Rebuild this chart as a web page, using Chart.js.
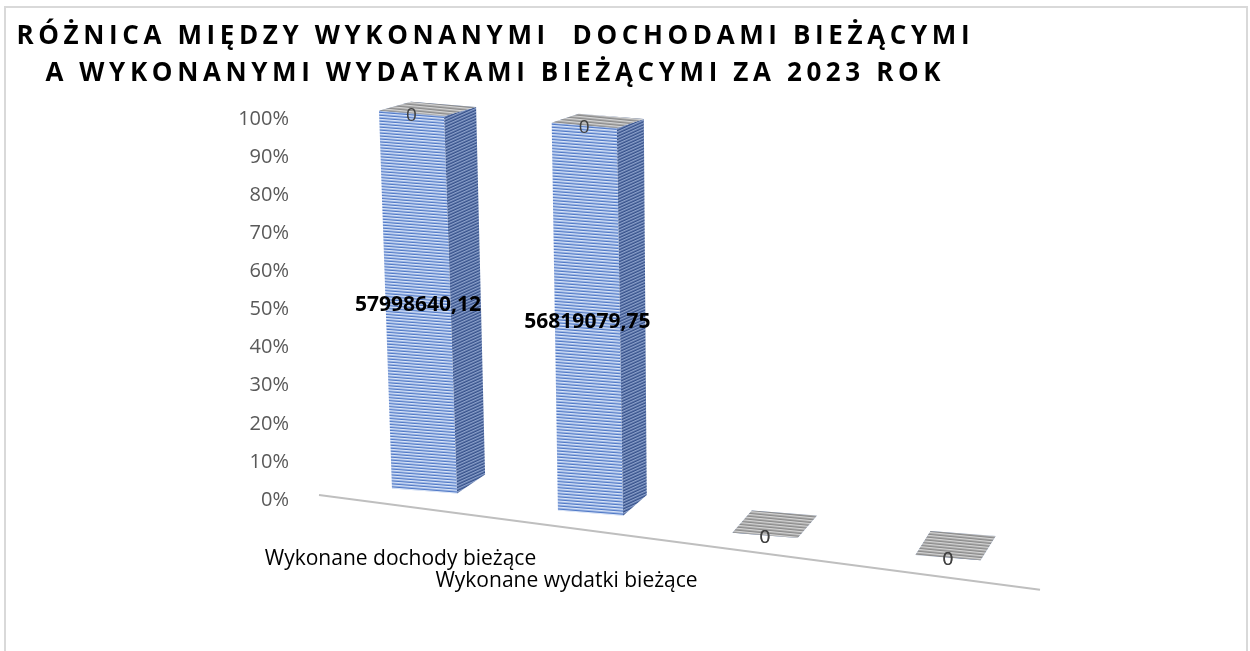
<!DOCTYPE html>
<html lang="pl">
<head>
<meta charset="utf-8">
<title>Różnica między wykonanymi dochodami bieżącymi a wykonanymi wydatkami bieżącymi za 2023 rok</title>
<script src="https://cdn.jsdelivr.net/npm/chart.js@4/dist/chart.umd.min.js"></script>
<style>
    html, body { margin: 0; padding: 0; background: #fff; }
    canvas { display: block; }
</style>
</head>
<body>
<canvas id="chart" width="1250" height="651"></canvas>
<script>
const titleLines = [
    'RÓŻNICA MIĘDZY WYKONANYMI  DOCHODAMI BIEŻĄCYMI',
    'A WYKONANYMI WYDATKAMI BIEŻĄCYMI ZA 2023 ROK'
];
const categories = ['Wykonane dochody bieżące', 'Wykonane wydatki bieżące', '', ''];
const executedValues = [57998640.12, 56819079.75, 0, 0];
const differenceValues = [0, 0, 0, 0];
const percentTicks = [0, 10, 20, 30, 40, 50, 60, 70, 80, 90, 100];

// 100% stacked: share of each series in its category total
const totals = categories.map((c, i) => executedValues[i] + differenceValues[i]);
const share = arr => arr.map((v, i) => totals[i] ? v / totals[i] * 100 : 0);

function stripes(colors, matrix) {
    const c = document.createElement('canvas');
    c.width = 4; c.height = colors.length;
    const g = c.getContext('2d');
    colors.forEach((col, i) => { g.fillStyle = col; g.fillRect(0, i, 4, 1); });
    const p = g.createPattern(c, 'repeat');
    if (matrix) p.setTransform(matrix);
    return p;
}

const faces = [
    {
        front: stripes(['#4f78c6', '#dbe6f8', '#9db6e4']),
        side: stripes(['#34508a', '#8da2cc', '#5e76a8'], new DOMMatrix([1, -0.45, 0, 1, 0, 0])),
        top: stripes(['#7b9bd6', '#c9d8f2', '#a2bbe6'], new DOMMatrix([1, 0.1, 0, 1, 0, 0]))
    },
    {
        front: stripes(['#8a8a8a', '#d4d4d4', '#a8a8a8']),
        side: stripes(['#707070', '#b8b8b8', '#909090'], new DOMMatrix([1, -0.45, 0, 1, 0, 0])),
        top: stripes(['#8a8a8a', '#d6d6d6', '#a8a8a8'], new DOMMatrix([1, 0.1, 0, 1, 0, 0]))
    }
];

const SKEW = 0.08;

// perspective-ish frame for a bar centred at x0
function frame(chart, x0) {
    const xs = chart.scales.x, ys = chart.scales.y;
    const X1 = xs.getPixelForValue(0);
    const cw = xs.getPixelForValue(1) - X1;
    const Y0 = ys.getPixelForValue(0), Y100 = ys.getPixelForValue(100);
    const u = (x0 - X1) / cw;
    return {
        x0, u, Y0, Y100,
        ox: 7.5 - 14.25 * u + 4.25 * u * u,
        b: 0.034 - 0.0176 * u,
        e: 0.991 + 0.027 * u,
        yb: Y0 - 9 + 22.2 * u
    };
}

function proj(f, x, y) {
    return { x: x + f.ox + f.b * (y - f.Y0), y: f.yb + f.e * (y - f.Y0) + SKEW * (x - f.x0) };
}

function depth(f, y) {
    const h = Math.max(0, Math.min(1, (f.Y0 - y) / (f.Y0 - f.Y100)));
    const bx = 28 - 4.3 * f.u, by = -19 - 1.7 * f.u;
    const tx = 32 - 5 * f.u, ty = -9;
    return { x: bx + (tx - bx) * h, y: by + (ty - by) * h };
}

function quad(ctx, pts, fill) {
    ctx.beginPath();
    ctx.moveTo(pts[0].x, pts[0].y);
    for (let k = 1; k < pts.length; k++) ctx.lineTo(pts[k].x, pts[k].y);
    ctx.closePath();
    ctx.fillStyle = fill;
    ctx.fill();
}

const fmt = v => v ? v.toFixed(2).replace('.', ',') : '0';

const depthLook = {
    id: 'depthLook',
    beforeDraw(chart) {
        const ctx = chart.ctx;
        ctx.save();
        ctx.strokeStyle = '#d9d9d9';
        ctx.lineWidth = 2;
        ctx.strokeRect(5, 7, 1242, 700);

        ctx.font = 'bold 26px "Open Sans"';
        ctx.fillStyle = '#000';
        ctx.textAlign = 'center';
        ctx.textBaseline = 'alphabetic';
        ctx.letterSpacing = '0px';
        const w0 = ctx.measureText(titleLines[0]).width;
        const ls = (953 - w0) / (titleLines[0].length - 1);
        ctx.letterSpacing = ls + 'px';
        ctx.fillText(titleLines[0], 493 + ls / 2, 44);
        ctx.fillText(titleLines[1], 493 + ls / 2, 81);
        ctx.letterSpacing = '0px';
        ctx.restore();
    },
    beforeDatasetsDraw(chart) {
        const ctx = chart.ctx;
        const xs = chart.scales.x;

        // floor front edge
        const fl = frame(chart, xs.left), fr = frame(chart, xs.right);
        ctx.save();
        ctx.strokeStyle = '#bfbfbf';
        ctx.lineWidth = 2;
        ctx.beginPath();
        ctx.moveTo(xs.left - 10, fl.yb + 15);
        ctx.lineTo(xs.right + 7, fr.yb + 21);
        ctx.stroke();
        ctx.restore();

        chart.data.datasets.forEach((ds, di) => {
            const meta = chart.getDatasetMeta(di);
            meta.data.forEach(bar => {
                const f = frame(chart, bar.x);
                ctx.save();
                ctx.transform(1, SKEW, f.b, f.e, f.ox - f.b * f.Y0, f.yb - f.e * f.Y0 - SKEW * f.x0);
                bar.draw(ctx, chart.chartArea);
                ctx.restore();

                const half = bar.width / 2;
                const frt = proj(f, bar.x + half, bar.y);
                const flt = proj(f, bar.x - half, bar.y);
                const dt = depth(f, bar.y);
                if (bar.base - bar.y > 0.5) {
                    const frb = proj(f, bar.x + half, bar.base);
                    const db = depth(f, bar.base);
                    quad(ctx, [frb, frt, { x: frt.x + dt.x, y: frt.y + dt.y }, { x: frb.x + db.x, y: frb.y + db.y }], faces[di].side);
                }
                quad(ctx, [flt, frt, { x: frt.x + dt.x, y: frt.y + dt.y }, { x: flt.x + dt.x, y: flt.y + dt.y }], faces[di].top);
            });
        });

        // data labels
        ctx.save();
        ctx.textAlign = 'center';
        ctx.textBaseline = 'middle';
        chart.data.datasets.forEach((ds, di) => {
            chart.getDatasetMeta(di).data.forEach((bar, i) => {
                const f = frame(chart, bar.x);
                const v = ds.rawValues[i];
                if (v) {
                    const p = proj(f, bar.x, (bar.y + bar.base) / 2);
                    ctx.font = 'bold 21px "Open Sans"';
                    ctx.fillStyle = '#000';
                    ctx.fillText(fmt(v), p.x, p.y + 3);
                } else {
                    const p = proj(f, bar.x, bar.y);
                    ctx.font = '19px "Open Sans"';
                    ctx.fillStyle = '#404040';
                    ctx.fillText(fmt(v), p.x, p.y + 2);
                }
            });
        });

        // category labels along the tilted floor
        ctx.font = '21px "Open Sans"';
        ctx.fillStyle = '#000';
        ctx.textBaseline = 'alphabetic';
        categories.forEach((c, i) => {
            if (!c) return;
            const x = xs.getPixelForValue(i);
            const f = frame(chart, x);
            const p = proj(f, x, f.Y0);
            ctx.fillText(c, p.x - 24, p.y + 74);
        });
        ctx.restore();
        return false;
    }
};

new Chart(document.getElementById('chart'), {
    type: 'bar',
    data: {
        labels: categories,
        datasets: [{
            label: 'Seria1',
            data: share(executedValues),
            rawValues: executedValues,
            backgroundColor: faces[0].front,
            borderWidth: 0
        }, {
            label: 'Seria2',
            data: share(differenceValues),
            rawValues: differenceValues,
            backgroundColor: faces[1].front,
            borderWidth: 0
        }]
    },
    options: {
        responsive: false,
        animation: false,
        barPercentage: 0.37,
        categoryPercentage: 1,
        layout: { padding: { top: 119, right: 217, bottom: 151, left: 0 } },
        plugins: {
            legend: { display: false },
            tooltip: { enabled: false },
            title: { display: false }
        },
        scales: {
            x: {
                stacked: true,
                display: false
            },
            y: {
                stacked: true,
                min: 0,
                max: 100,
                afterFit: s => { s.width = 329; },
                afterBuildTicks: s => { s.ticks = percentTicks.map(v => ({ value: v })); },
                grid: { display: false, drawTicks: false },
                border: { display: false },
                ticks: {
                    padding: 40,
                    color: '#595959',
                    font: { family: 'Open Sans', size: 20 },
                    callback: v => v + '%'
                }
            }
        }
    },
    plugins: [depthLook]
});
</script>
</body>
</html>
